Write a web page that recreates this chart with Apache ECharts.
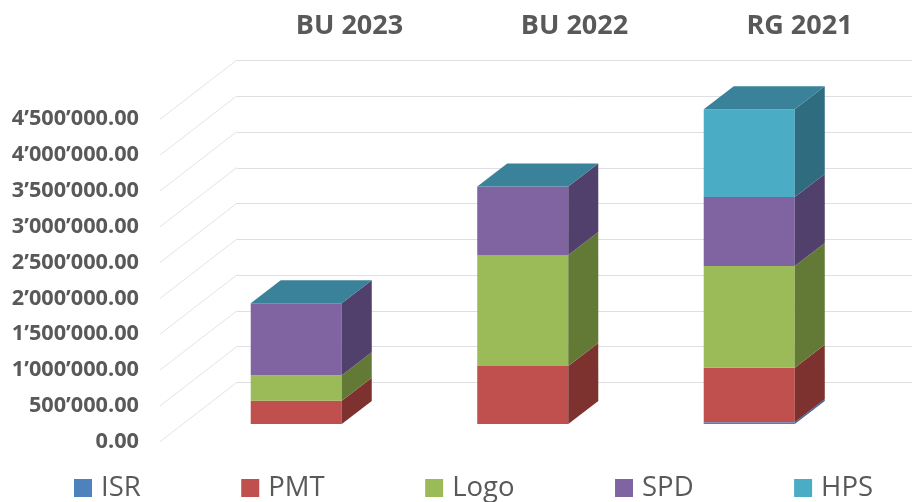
<!DOCTYPE html>
<html>
<head>
<meta charset="utf-8">
<title>BU 2023 / BU 2022 / RG 2021</title>
<script src="https://cdn.jsdelivr.net/npm/echarts@6/dist/echarts.min.js"></script>
<style>
html, body { margin: 0; padding: 0; background: #fff; }
#chart { width: 912px; height: 502px; }
</style>
</head>
<body>
<div id="chart"></div>
<script>
var categories = ['BU 2023', 'BU 2022', 'RG 2021'];
var yTicks = [0, 500000, 1000000, 1500000, 2000000, 2500000, 3000000, 3500000, 4000000, 4500000];

// values
var isr = [0, 0, 25000];
var pmt = [325000, 810000, 760000];
var logo = [355000, 1550000, 1420000];
var spd = [1005000, 954000, 963000];
var hps = [0, 0, 1225000];

var seriesNames = ['ISR', 'PMT', 'Logo', 'SPD', 'HPS'];
var seriesValues = [isr, pmt, logo, spd, hps];
var frontColors = ['#4f81bd', '#c0504d', '#9bbb59', '#8064a2', '#4bacc6'];
var sideColors = ['#3f6797', '#7e322f', '#637a36', '#52406c', '#2f6c80'];
var topColor = '#3a8299';

// depth of the fake 3d
var floorDx = 77, floorDy = 59.4;
var barDx = 23, barDy = 17.7;
var depthDx = 30, depthDy = 23;

function fmt(v) {
    return v.toFixed(0).replace(/\B(?=(\d{3})+$)/g, '’') + '.00';
}

function poly(points, color) {
    return { type: 'polygon', shape: { points: points }, style: { fill: color } };
}

function barSeries(idx) {
    var data = categories.map(function (c, i) {
        var base = 0;
        for (var s = 0; s < idx; s++) base += seriesValues[s][i];
        return [i, base, base + seriesValues[idx][i]];
    });
    return {
        name: seriesNames[idx],
        type: 'custom',
        xAxisIndex: 1,
        yAxisIndex: 1,
        itemStyle: { color: frontColors[idx] },
        encode: { x: 0, y: [1, 2] },
        data: data,
        renderItem: function (params, api) {
            var low = api.coord([api.value(0), api.value(1)]);
            var high = api.coord([api.value(0), api.value(2)]);
            var w = api.size([1, 0])[0] * 0.402;
            var x0 = low[0] - w / 2 + barDx, x1 = x0 + w;
            var y0 = low[1] - barDy, y1 = high[1] - barDy;
            var children = [];
            if (y0 - y1 > 0) {
                children.push(poly([[x0, y0], [x1, y0], [x1, y1], [x0, y1]], frontColors[idx]));
                children.push(poly([[x1, y0], [x1 + depthDx, y0 - depthDy], [x1 + depthDx, y1 - depthDy], [x1, y1]], sideColors[idx]));
            }
            // the last series closes the column, also when its value is 0
            if (idx === seriesNames.length - 1) {
                children.push(poly([[x0, y1], [x1, y1], [x1 + depthDx, y1 - depthDy], [x0 + depthDx, y1 - depthDy]], topColor));
            }
            return { type: 'group', children: children };
        }
    };
}

var myChart = echarts.init(document.getElementById('chart'));

var option = {
    animation: false,
    backgroundColor: '#fff',
    textStyle: { fontFamily: 'Open Sans' },
    grid: [
        // back wall
        { left: 237, top: 60.7, width: 679.5, height: 321.6 },
        // front plane
        { left: 160, top: 119.3, width: 679.5, height: 322.4 }
    ],
    xAxis: [{
        gridIndex: 0,
        type: 'category',
        position: 'top',
        data: categories,
        axisLine: { show: false },
        axisTick: { show: false },
        axisLabel: { color: '#595959', fontSize: 27, fontWeight: 'bold', margin: 21 }
    }, {
        gridIndex: 1,
        type: 'category',
        data: categories,
        axisLine: { show: false },
        axisTick: { show: false },
        axisLabel: { show: false }
    }],
    yAxis: [{
        gridIndex: 0,
        type: 'value',
        min: 0,
        max: 4500000,
        interval: 500000,
        axisLine: { show: false },
        axisTick: { show: false },
        axisLabel: { show: false },
        splitLine: { lineStyle: { color: '#dfdfe2', width: 1 } }
    }, {
        gridIndex: 1,
        type: 'value',
        min: 0,
        max: 4500000,
        interval: 500000,
        axisLine: { show: false },
        axisTick: { show: false },
        splitLine: { show: false },
        axisLabel: {
            color: '#595959',
            fontSize: 21.7,
            fontWeight: 'bold',
            margin: 21,
            padding: [2, 0, 0, 0],
            formatter: fmt
        }
    }],
    legend: {
        left: 69,
        top: 469,
        itemWidth: 18,
        itemHeight: 18,
        itemGap: 100.5,
        icon: 'rect',
        data: seriesNames,
        selectedMode: false,
        textStyle: { color: '#595959', fontSize: 27.5, padding: [0, 0, 0, 4] }
    },
    series: [{
        type: 'custom',
        xAxisIndex: 1,
        yAxisIndex: 1,
        silent: true,
        data: yTicks.map(function (v) { return [0, v]; }),
        encode: { x: 0, y: 1 },
        renderItem: function (params, api) {
            var y = api.coord([0, api.value(1)])[1];
            var x = params.coordSys.x;
            return {
                type: 'line',
                shape: { x1: x, y1: y, x2: x + floorDx, y2: y - floorDy },
                style: { stroke: '#e4e4e6', lineWidth: 1 }
            };
        }
    }].concat(seriesNames.map(function (n, i) { return barSeries(i); }))
};

myChart.setOption(option);
window.addEventListener('resize', function () {
    myChart.resize();
});
</script>
</body>
</html>
